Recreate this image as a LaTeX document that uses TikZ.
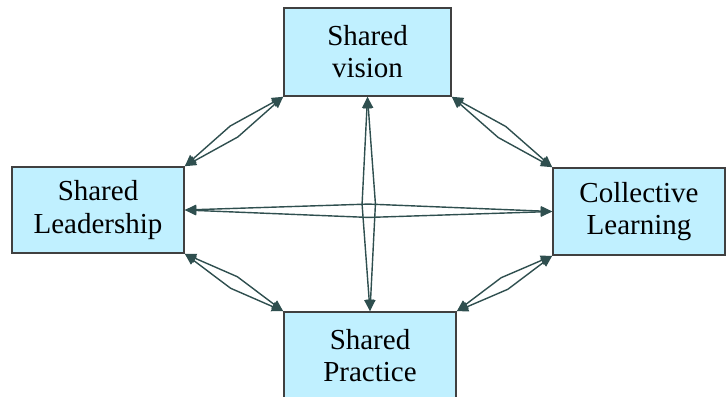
\documentclass[tikz,border=0pt]{standalone}
\usepackage{fontspec}
\setmainfont{Liberation Serif}
\usetikzlibrary{calc}
\usetikzlibrary{arrows.meta}

\definecolor{boxfill}{RGB}{192,240,255}
\definecolor{boxline}{RGB}{64,64,64}
\definecolor{linkcol}{RGB}{47,79,79}

\tikzset{
  topic/.style={draw=boxline, fill=boxfill, line width=0.9pt, rectangle,
    align=center, inner sep=0pt,
    font=\fontsize{16.5}{18.3}\selectfont},
  link/.style={draw=linkcol, line width=0.8pt,
    {Triangle[length=6.5pt,width=5.5pt]}-{Triangle[length=6.5pt,width=5.5pt]}}
}

\begin{document}
\begin{tikzpicture}[x=0.02cm, y=-0.02cm]
    % Frame of the picture (pixels of the reference)
    \useasboundingbox (0,0) rectangle (727,396);

    % Half gap between the two lines of a link
    \def\gap{3.8pt}

    % The four boxes
    \node[topic, minimum width=167*0.02cm, minimum height=88*0.02cm] (vision) at (367.5,52) {Shared\\vision};
    \node[topic, minimum width=172*0.02cm, minimum height=86*0.02cm] (lead) at (98,210) {Shared\\Leadership};
    \node[topic, minimum width=172*0.02cm, minimum height=87*0.02cm] (coll) at (639,211.5) {Collective\\Learning};
    \node[topic, minimum width=172*0.02cm, minimum height=88*0.02cm] (practice) at (370,356) {Shared\\Practice};

    % Double links, each one two thin bent lines
    \foreach \src/\dst in {lead.north east/vision.south west,
                           vision.south east/coll.north west,
                           lead.south east/practice.north west,
                           practice.north east/coll.south west,
                           lead.east/coll.west,
                           vision.south/practice.north} {
        \draw[link] (\src) -- ($(\src)!0.5!(\dst)!\gap!90:(\dst)$) -- (\dst);
        \draw[link] (\src) -- ($(\src)!0.5!(\dst)!\gap!-90:(\dst)$) -- (\dst);
    }

\end{tikzpicture}
\end{document}
